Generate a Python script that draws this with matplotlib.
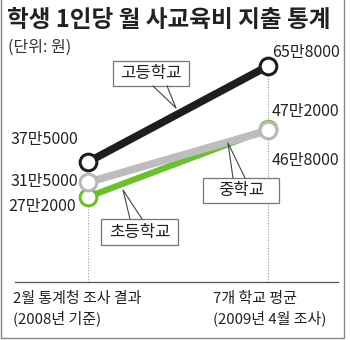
import matplotlib
matplotlib.use("Agg")
import matplotlib.pyplot as plt
from matplotlib.lines import Line2D

plt.rcParams['font.family'] = ['Noto Sans CJK KR', 'DejaVu Sans']

# data (원)
periods = ["2월 통계청 조사 결과\n(2008년 기준)", "7개 학교 평균\n(2009년 4월 조사)"]
schools = ["고등학교", "중학교", "초등학교"]
high = [375000, 658000]
middle = [315000, 468000]
elem = [272000, 472000]
high_labels = ["37만5000", "65만8000"]
middle_labels = ["31만5000", "46만8000"]
elem_labels = ["27만2000", "47만2000"]

W, H = 350, 340
fig = plt.figure(figsize=(W / 100, H / 100), dpi=100)


def fx(px):
    return px / W


def fy(py):
    return 1 - py / H


# axes spans whole figure; limits chosen so x=0 -> 88px, x=1 -> 268px
ax = fig.add_axes([0, 0, 1, 1])
ax.axis("off")
x0_px, x1_px = 88, 268
y_lo_px, y_hi_px = 162, 66
sx = x1_px - x0_px
sy = (y_lo_px - y_hi_px) / (high[1] - high[0])
ax.set_xlim(-x0_px / sx, (W - x0_px) / sx)
ax.set_ylim(high[0] - (H - y_lo_px) / sy, high[1] + y_hi_px / sy)
ylo, yhi = ax.get_ylim()
base_val = ylo + (1 - 282 / H) * (yhi - ylo)

xs = [0, 1]
# dotted guides
ax.vlines(0, base_val, min(elem[0], middle[0], high[0]), colors="#999999",
          linestyles=(0, (1, 1.5)), lw=0.8, zorder=1)
ax.vlines(1, base_val, high[1], colors="#999999",
          linestyles=(0, (1, 1.5)), lw=0.8, zorder=1)

mk = dict(marker="o", markersize=12, markerfacecolor="white", markeredgewidth=2.2)
ax.plot(xs, elem, color="#6cbf2e", lw=4.5, markeredgecolor="#6cbf2e", zorder=3, **mk)
ax.plot(xs, middle, color="#bdbdbd", lw=5.5, markeredgecolor="#b8b8b8", zorder=4, **mk)
ax.plot(xs, high, color="#1e1e1e", lw=5.5, markeredgecolor="#1e1e1e", zorder=5, **mk)

fs_val = 11.5
txt = dict(fontsize=fs_val, color="#222222", va="center")
ax.annotate(high_labels[0], (0, high[0]), xytext=(-10, 22), textcoords="offset pixels", ha="right", **txt)
ax.annotate(middle_labels[0], (0, middle[0]), xytext=(-10, 1), textcoords="offset pixels", ha="right", **txt)
ax.annotate(elem_labels[0], (0, elem[0]), xytext=(-12, -10), textcoords="offset pixels", ha="right", **txt)
ax.annotate(high_labels[1], (1, high[1]), xytext=(4, 14), textcoords="offset pixels", ha="left", **txt)
ax.annotate(elem_labels[1], (1, elem[1]), xytext=(4, 18), textcoords="offset pixels", ha="left", **txt)
ax.annotate(middle_labels[1], (1, middle[1]), xytext=(4, -30), textcoords="offset pixels", ha="left", **txt)

# callout boxes
boxes = [
    (schools[0], (113, 61, 189, 86), [(153, 86), (176, 108), (167, 86)]),
    (schools[1], (203, 178, 279, 203), [(233, 178), (228, 143), (245, 178)]),
    (schools[2], (101, 219, 178, 245), [(130, 219), (123, 190), (142, 219)]),
]
for name, (bx0, by0, bx1, by1), ptr in boxes:
    fig.patches.append(plt.Rectangle((fx(bx0), fy(by1)), fx(bx1) - fx(bx0), fy(by0) - fy(by1),
                                     transform=fig.transFigure, facecolor="white",
                                     edgecolor="#777777", lw=0.9, zorder=6))
    fig.lines.append(Line2D([fx(p[0]) for p in ptr], [fy(p[1]) for p in ptr],
                            transform=fig.transFigure, color="#444444", lw=0.8, zorder=7))
    fig.text(fx((bx0 + bx1) / 2), fy((by0 + by1) / 2), name, ha="center", va="center",
             fontsize=12, color="#222222", zorder=8)

# baseline and period labels
fig.lines.append(Line2D([fx(15), fx(338)], [fy(282), fy(282)], transform=fig.transFigure,
                        color="#555555", lw=0.9))
fig.text(fx(13), fy(309), periods[0], ha="left", va="center", fontsize=10.8,
         color="#222222", linespacing=1.3)
fig.text(fx(213), fy(309), periods[1], ha="left", va="center", fontsize=10.8,
         color="#222222", linespacing=1.3)

# title
fig.text(fx(7), fy(20), "학생 1인당 월 사교육비 지출 통계", ha="left", va="center",
         fontsize=17, fontweight="bold", color="#222222")
fig.text(fx(8), fy(47), "(단위: 원)", ha="left", va="center", fontsize=11.5, color="#333333")

# frame
fig.lines.append(Line2D([fx(1), fx(1), fx(344), fx(344)], [fy(0), fy(338), fy(338), fy(0)],
                        transform=fig.transFigure, color="#888888", lw=1.0))

fig.savefig("out.png", dpi=100)
